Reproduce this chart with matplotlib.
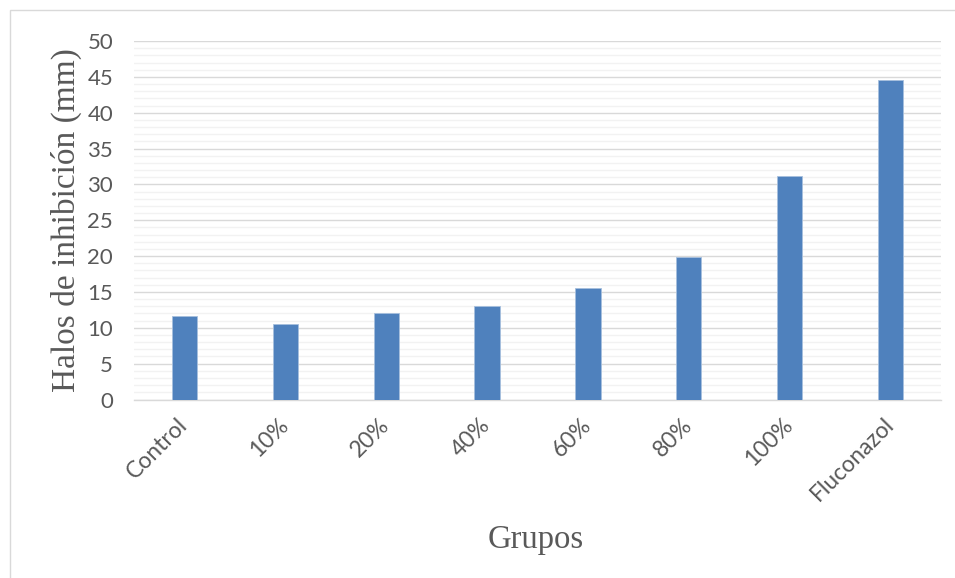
import matplotlib
matplotlib.use("Agg")
import matplotlib.pyplot as plt
from matplotlib.patches import Rectangle
from matplotlib.ticker import MultipleLocator
import numpy as np

grupos = ["Control", "10%", "20%", "40%", "60%", "80%", "100%", "Fluconazol"]
halos_mm = [11.7, 10.5, 12.1, 13.0, 15.5, 19.9, 31.2, 44.6]

W, H = 955, 578
fig = plt.figure(figsize=(W / 100, H / 100), dpi=100)
fig.patch.set_facecolor("white")

# thin frame around the chart area
fig.add_artist(Rectangle((10 / W, -0.01), 1.0, 1.0 - 10 / H + 0.01,
                         transform=fig.transFigure, fill=False,
                         edgecolor="#D9D9D9", linewidth=1.0))

ax = fig.add_axes([134 / W, 1 - 399.5 / H, (941 - 134) / W, (399.5 - 41) / H])

x = np.arange(len(grupos))
ax.bar(x, halos_mm, width=0.25, color="#4F81BD", edgecolor="#A7C0DE",
       linewidth=0.6, zorder=3)

ax.set_xlim(-0.5, len(grupos) - 0.5)
ax.set_ylim(0, 50)
ax.yaxis.set_major_locator(MultipleLocator(5))
ax.yaxis.set_minor_locator(MultipleLocator(1))
ax.grid(which="major", axis="y", color="#D9D9D9", linewidth=1.0, zorder=1)
ax.grid(which="minor", axis="y", color="#F2F2F2", linewidth=1.0, zorder=0)
ax.set_axisbelow(True)

for s in ["top", "right", "left"]:
    ax.spines[s].set_visible(False)
ax.spines["bottom"].set_color("#D9D9D9")
ax.spines["bottom"].set_linewidth(1.0)

ax.tick_params(axis="y", which="both", length=0, pad=15,
               labelsize=16, labelcolor="#595959")
ax.tick_params(axis="x", length=0, pad=8, labelsize=16.5, labelcolor="#595959")
for lab in ax.get_yticklabels():
    lab.set_fontfamily("Lato")

ax.set_xticks(x)
ax.set_xticklabels(grupos, rotation=45, ha="right", va="center",
                   rotation_mode="anchor", family="Lato")
for lab in ax.get_xticklabels():
    lab.set_y(-0.03)

ax.set_ylabel("Halos de inhibición (mm)", family="Liberation Serif",
              fontsize=24, color="#595959", labelpad=4)
fig.text(536 / W, 1 - 540 / H, "Grupos", family="Liberation Serif",
         fontsize=23.5, color="#595959", ha="center", va="center")

fig.savefig("out.png", dpi=100)
